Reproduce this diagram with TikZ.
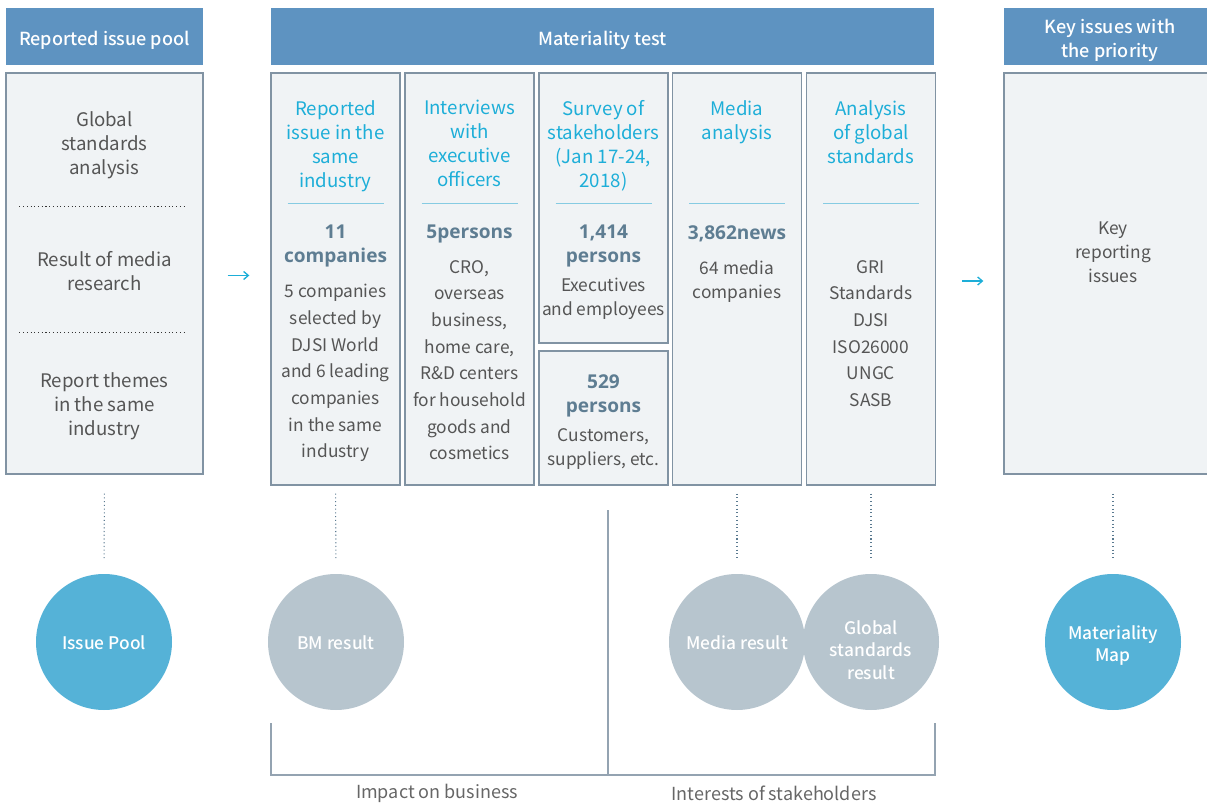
\documentclass[tikz,border=0pt]{standalone}
\usepackage{fontspec}
\setmainfont{Noto Sans CJK KR}
\newfontfamily\medfont{Noto Sans CJK KR Medium}
\newfontfamily\numfont{Open Sans}
\usetikzlibrary{arrows.meta,positioning}
\definecolor{headblue}{HTML}{5E93C1}
\definecolor{boxfill}{HTML}{F0F3F5}
\definecolor{boxline}{HTML}{8193A3}
\definecolor{titlecyan}{HTML}{1DAED8}
\definecolor{rulecyan}{HTML}{86CBE2}
\definecolor{bodygray}{HTML}{555555}
\definecolor{numslate}{HTML}{5E7D92}
\definecolor{poolblue}{HTML}{55B2D7}
\definecolor{resgray}{HTML}{B7C5CE}
\definecolor{dotslate}{HTML}{5A7A90}

\begin{document}
\begin{tikzpicture}[x=0.75pt,y=-0.75pt, every node/.style={inner sep=0pt,align=center,text=bodygray,font=\fontsize{13}{18}\selectfont},
  head/.style={fill=headblue,minimum height=42.75pt},
  headtxt/.style={text=white,font=\fontsize{13.5}{18}\selectfont\medfont},
  panel/.style={draw=boxline,fill=boxfill,line width=1pt},
  col/.style={panel,minimum width=96.75pt,minimum height=309pt},
  ttl/.style={anchor=north,text=titlecyan,font=\fontsize{14}{18}\selectfont},
  num/.style={anchor=north,text=numslate,font=\numfont\bfseries\fontsize{14.3}{18}\selectfont},
  txt/.style={anchor=north}, big/.style={txt,font=\fontsize{14}{18}\selectfont},
  wide/.style={txt,font=\fontsize{13}{20}\selectfont},
  rule/.style={draw=rulecyan,line width=1.2pt},
  sep/.style={draw=black!80,dotted,line width=0.8pt},
  link/.style={draw=dotslate,dotted,line width=0.8pt},
  flow/.style={draw=titlecyan,line width=1pt,-{Straight Barb[length=3.5pt,width=6pt]}},
  res/.style={circle,minimum size=102pt},
  restxt/.style={text=white,font=\fontsize{13}{16.8}\selectfont\medfont},
  brk/.style={draw=boxline!85,line width=1pt}]
\useasboundingbox (0,0) rectangle (1207,805);
\node[head,minimum width=147.75pt] (hpool) at (104.5,36.5) {};
\node[head,minimum width=497.25pt] (htest) at (602.5,36.5) {};
\node[head,minimum width=163.5pt] (hkey) at (1113,36.5) {};
\node[headtxt] (hpoolt) at (104.5,40) {Reported issue pool};
\node[headtxt] (htestt) at (602.5,40) {Materiality test};
\node[headtxt] (hkeyt) at (1110,40) {Key issues with\\the priority};
\node[panel,minimum width=147.75pt,minimum height=300.75pt] (pool) at (104.5,273.5) {};
\node[col] (c1) at (335.5,279) {}; \node[col] (c2) at (469.5,279) {};
\node[panel,minimum width=96.75pt,minimum height=202.5pt] (c3a) at (603.5,208) {};
\node[panel,minimum width=96.75pt,minimum height=100.5pt] (c3b) at (603.5,418) {};
\node[col] (c4) at (737,279) {}; \node[col] (c5) at (871,279) {};
\node[panel,minimum width=163.5pt,minimum height=300.75pt] (key) at (1113,273.5) {};
\node[big] (gsa) at (104.5,111) {Global\\standards\\analysis};
\node[big] (rmr) at (104.5,251) {Result of media\\research};
\node[big] (rth) at (104.5,372) {Report themes\\in the same\\industry};
\draw[sep] (pool.north west) ++(14,134) -- ++(165,0);
\draw[sep] (pool.north west) ++(14,260) -- ++(165,0);
\node[ttl] (t1) at (335.5,100) {Reported\\issue in the\\same\\industry};
\node[ttl] (t2) at (469.5,100) {Interviews\\with\\executive\\officers};
\node[ttl] (t3) at (603.5,100) {Survey of\\stakeholders\\(Jan 17-24,\\2018)};
\node[ttl] (t4) at (737,100) {Media\\analysis};
\node[ttl] (t5) at (871,100) {Analysis\\of global\\standards};
\foreach \c in {c1,c2,c3a,c4,c5} \draw[rule] (\c.north) ++(-48,131) -- ++(96,0);
\node[num] (n1) at (335.5,225) {11\\companies};
\node[wide] (d1) at (335.5,284) {5 companies\\selected by\\DJSI World\\and 6 leading\\companies\\in the same\\industry};
\node[num] (n2) at (469.5,225) {5persons};
\node[wide] (d2) at (469.5,260) {CRO,\\overseas\\business,\\home care,\\R\&D centers\\for household\\goods and\\cosmetics};
\node[num] (n3a) at (603.5,225) {1,414\\persons};
\node[txt] (d3a) at (603.5,278) {Executives\\and employees};
\node[num] (n3b) at (603.5,374) {529\\persons};
\node[txt] (d3b) at (603.5,428) {Customers,\\suppliers, etc.};
\node[num] (n4) at (737,225) {3,862news};
\node[txt] (d4) at (737,260) {64 media\\companies};
\node[wide] (d5) at (871,260) {GRI\\Standards\\DJSI\\ISO26000\\UNGC\\SASB};
\node[txt] (kri) at (1113,222) {Key\\reporting\\issues};
\draw[flow,shorten <=24pt*0.75,shorten >=21pt*0.75] ([yshift=-1.5pt]pool.east) -- ([yshift=-1.5pt]pool.east -| c1.west);
\draw[flow,shorten <=26pt*0.75,shorten >=20pt*0.75] ([yshift=-1.5pt]c5.east) -- ([yshift=-1.5pt]c5.east -| key.west);
\node[res,fill=poolblue] (ipool) at (104,642) {}; \node[restxt] (ipoolt) at (104,643) {Issue Pool};
\node[res,fill=resgray] (bm) at (336,642) {}; \node[restxt] (bmt) at (336,643) {BM result};
\node[res,fill=resgray] (media) at (737,642) {}; \node[restxt] (mediat) at (737,643) {Media result};
\node[res,fill=resgray] (glob) at (871,642) {}; \node[restxt] (globt) at (871,650) {Global\\standards\\result};
\node[res,fill=poolblue] (mmap) at (1113,642) {}; \node[restxt] (mmapt) at (1113,645.5) {Materiality\\Map};
\draw[link,shorten <=14.25pt,shorten >=10.5pt] (pool.south) -- (ipool.north);
\draw[link,shorten <=6pt,shorten >=10.5pt] (c1.south) -- (bm.north);
\draw[link,shorten <=6pt,shorten >=10.5pt] (c4.south) -- (media.north);
\draw[link,shorten <=6pt,shorten >=10.5pt] (c5.south) -- (glob.north);
\draw[link,shorten <=14.25pt,shorten >=10.5pt] (key.south) -- (mmap.north);
\draw[brk] (271,723) |- (935,775) -- (935,723);
\draw[brk] (608,510) -- (608,775);
\node[font=\fontsize{13.5}{18}\selectfont,text=black!60] (iob) at (437,793) {Impact on business};
\node[font=\fontsize{13.5}{18}\selectfont,text=black!60] (ios) at (774,793) {Interests of stakeholders};
\end{tikzpicture}
\end{document}
